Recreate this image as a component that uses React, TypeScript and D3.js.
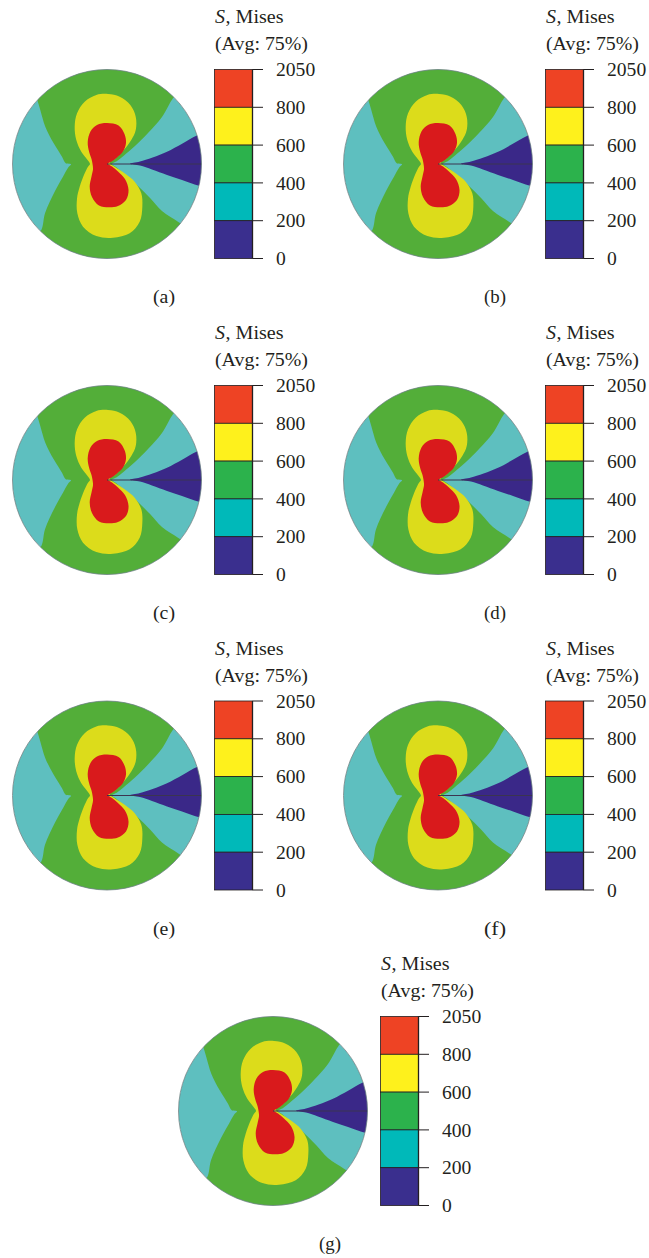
import React from 'react';
import * as d3 from 'd3';

// Contour bands.
// Units: disk radius = 1, origin at the crack tip (disk centre), y pointing up.
const redZone: [number, number][] = [
  [0, 0.434], [0.122, 0.407], [0.185, 0.317], [0.201, 0.222], [0.169, 0.132],
  [0.106, 0.069], [0.048, 0.026], [0.011, 0.003], [0.053, -0.026], [0.116, -0.079],
  [0.19, -0.159], [0.228, -0.275], [0.201, -0.381], [0.116, -0.444], [0.021, -0.458],
  [-0.085, -0.439], [-0.159, -0.349], [-0.183, -0.238], [-0.164, -0.132], [-0.148, -0.053],
  [-0.153, 0], [-0.164, 0.053], [-0.19, 0.132], [-0.204, 0.233], [-0.175, 0.344],
  [-0.106, 0.413]
];

const yellowZone: [number, number][] = [
  [0.011, 0.741], [0.134, 0.712], [0.247, 0.624], [0.304, 0.501], [0.304, 0.36],
  [0.257, 0.254], [0.177, 0.148], [0.092, 0.06], [0.029, 0.014], [0.081, -0.029],
  [0.187, -0.098], [0.293, -0.187], [0.363, -0.31], [0.374, -0.452], [0.346, -0.611],
  [0.24, -0.733], [0.063, -0.78], [-0.113, -0.762], [-0.254, -0.663], [-0.314, -0.522],
  [-0.317, -0.363], [-0.289, -0.24], [-0.236, -0.098], [-0.201, -0.029], [-0.18, 0],
  [-0.212, 0.05], [-0.272, 0.13], [-0.325, 0.254], [-0.342, 0.395], [-0.317, 0.537],
  [-0.236, 0.659], [-0.113, 0.73]
];

// points beyond |r| = 1 are cut away by the disk clip
const greenZone: [number, number][] = [
  [-0.783, 0.783], [-0.847, 1.164], [0, 1.354], [0.847, 1.164], [0.772, 0.772],
  [0.698, 0.695], [0.582, 0.497], [0.434, 0.328], [0.296, 0.19], [0.18, 0.09],
  [0.106, 0.032], [0.053, 0], [0.095, -0.032], [0.18, -0.101], [0.317, -0.222],
  [0.458, -0.363], [0.582, -0.497], [0.751, -0.611], [0.836, -0.677], [0.899, -1.164],
  [0, -1.354], [-0.899, -1.164], [-0.772, -0.772], [-0.695, -0.698], [-0.656, -0.522],
  [-0.55, -0.286], [-0.466, -0.134], [-0.407, -0.032], [-0.381, -0.003], [-0.437, 0.008],
  [-0.476, 0.077], [-0.564, 0.219], [-0.653, 0.395], [-0.706, 0.571], [-0.738, 0.677]
];

const navyZone: [number, number][] = [
  [0.243, 0.003], [0.349, 0.026], [0.635, 0.13], [0.952, 0.302], [1.111, 0.36],
  [1.249, 0], [1.164, -0.275], [0.974, -0.23], [0.794, -0.169], [0.635, -0.116],
  [0.476, -0.058], [0.349, -0.016]
];

const crack: [number, number][] = [[0, 0], [1, 0]];

const legendTicks = ['2050', '800', '600', '400', '200', '0'];
const legendColors = ['#ee4324', '#fef11c', '#2cb24c', '#00b9b9', '#3a2f8e'];
const panelLabels = ['(a)', '(b)', '(c)', '(d)', '(e)', '(f)', '(g)'];

const fieldColors = {
  cyan: '#5ebfbf',
  navy: '#3a2888',
  green: '#53ae39',
  yellow: '#dcdc1b',
  red: '#d91a1c'
};

const W = 649;
const H = 1258;
const R = 94.5;
const CX = 107;
const CY = 164;

const panelPos = [
  [0, 0], [331, 0],
  [0, 316], [331, 316],
  [0, 631.5], [331, 631.5],
  [166, 947]
];

const FONT = '"Liberation Serif", "Times New Roman", serif';
const FS = 19.5;

const x = d3.scaleLinear().domain([-1, 1]).range([CX - R, CX + R]);
const y = d3.scaleLinear().domain([-1, 1]).range([CY + R, CY - R]);

const band = d3.line<[number, number]>()
  .x(d => x(d[0]))
  .y(d => y(d[1]))
  .curve(d3.curveCatmullRomClosed.alpha(0.5));

const straight = d3.line<[number, number]>()
  .x(d => x(d[0]))
  .y(d => y(d[1]));

const legendY = d3.scalePoint<string>().domain(legendTicks).range([69.5, 258.5]);
const BAR_X = 214.5;
const BAR_W = 38;

const Panel: React.FC<{ label: string; dx: number; dy: number }> = ({ label, dx, dy }) => {
  return (
    <g transform={`translate(${dx},${dy})`}>
      {/* contour disk */}
      <g clipPath="url(#disk)">
        <circle cx={CX} cy={CY} r={R} fill={fieldColors.cyan} />
        <path d={band(navyZone) || ''} fill={fieldColors.navy} />
        <path d={band(greenZone) || ''} fill={fieldColors.green} />
        <path d={band(yellowZone) || ''} fill={fieldColors.yellow} />
        <path d={band(redZone) || ''} fill={fieldColors.red} />
        <path d={straight(crack) || ''} stroke="#3b3550" strokeWidth={1} fill="none" />
      </g>
      <circle cx={CX} cy={CY} r={R} fill="none" stroke="#6e8283" strokeWidth={0.8} />

      {/* legend title */}
      <text x={215} y={23.3} fontFamily={FONT} fontSize={FS} fontStyle="italic" fill="#231f20"
        textLength={10} lengthAdjust="spacingAndGlyphs">S</text>
      <text x={225.5} y={23.3} fontFamily={FONT} fontSize={FS} fill="#231f20"
        textLength={58} lengthAdjust="spacingAndGlyphs">, Mises</text>
      <text x={215} y={50} fontFamily={FONT} fontSize={FS} fill="#231f20"
        textLength={93} lengthAdjust="spacingAndGlyphs">(Avg: 75%)</text>

      {/* legend bar */}
      {legendColors.map((c, i) => {
        const y0 = legendY(legendTicks[i]) as number;
        const y1 = legendY(legendTicks[i + 1]) as number;
        return (
          <rect key={c} x={BAR_X} y={y0} width={BAR_W} height={y1 - y0}
            fill={c} stroke="#231f20" strokeWidth={0.8} />
        );
      })}
      <line x1={BAR_X + BAR_W} x2={BAR_X + BAR_W} y1={legendY('2050')} y2={legendY('0')}
        stroke="#231f20" strokeWidth={1.3} />
      {legendTicks.map(t => {
        const ty = legendY(t) as number;
        return (
          <g key={t}>
            <line x1={BAR_X + BAR_W} x2={263} y1={ty} y2={ty} stroke="#231f20" strokeWidth={1} />
            <text x={276} y={ty + 6.6} fontFamily={FONT} fontSize={FS} fill="#231f20"
              textLength={t.length * 9.8} lengthAdjust="spacingAndGlyphs">{t}</text>
          </g>
        );
      })}

      {/* caption */}
      <text x={164} y={303} textAnchor="middle" fontFamily={FONT} fontSize={FS} fill="#231f20"
        textLength={22} lengthAdjust="spacingAndGlyphs">{label}</text>
    </g>
  );
};

export default function App() {
  return (
    <svg width={W} height={H} viewBox={`0 0 ${W} ${H}`}
      style={{ position: 'absolute', left: 0, top: 0, display: 'block', background: '#fff' }}>
      <defs>
        <clipPath id="disk">
          <circle cx={CX} cy={CY} r={R} />
        </clipPath>
      </defs>
      {panelLabels.map((l, i) => (
        <Panel key={l} label={l} dx={panelPos[i][0]} dy={panelPos[i][1]} />
      ))}
    </svg>
  );
}
